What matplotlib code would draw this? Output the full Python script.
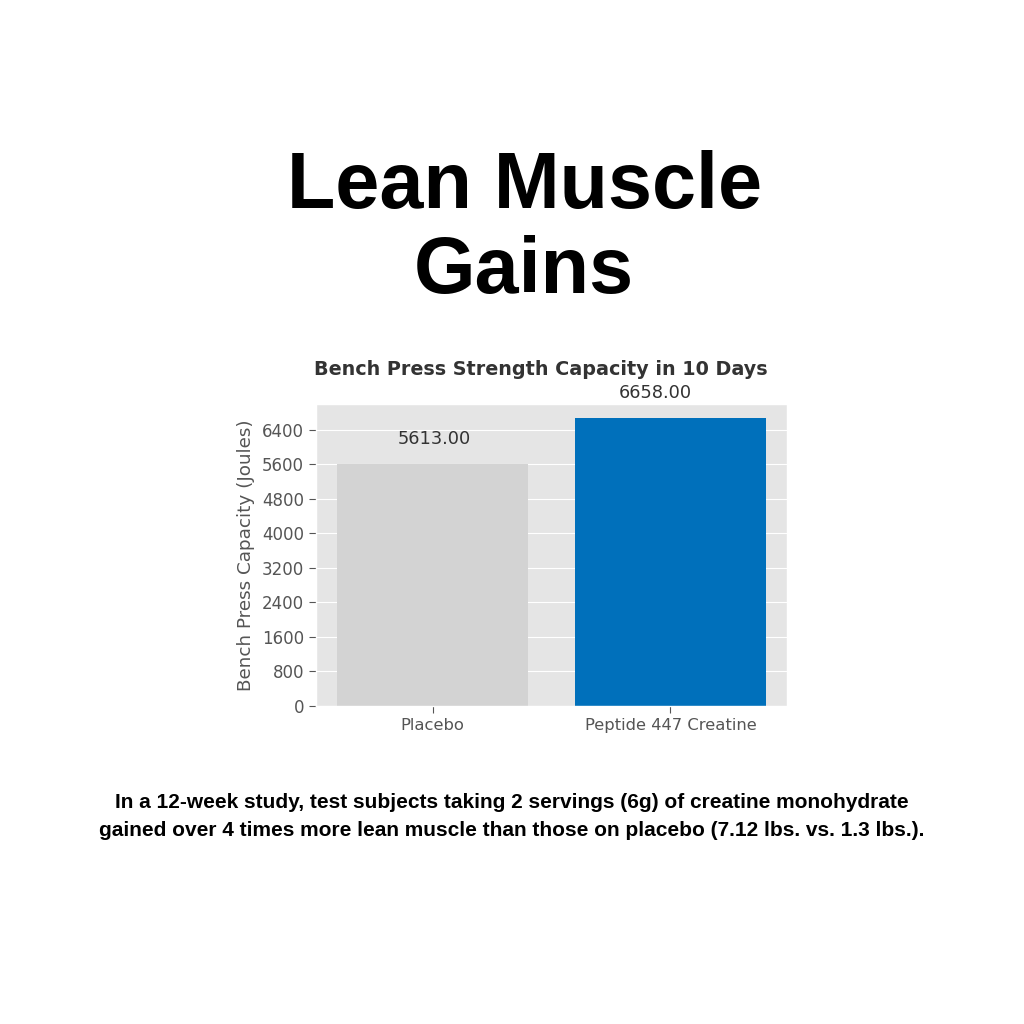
import numpy as np
import matplotlib
matplotlib.use('Agg')
import matplotlib.pyplot as plt

# Data
groups = ['Placebo', 'Peptide 447 Creatine']
capacity = [5613.00, 6658.00]
bar_colors = ['#d3d3d3', '#0070bb']
y_ticks = [0, 800, 1600, 2400, 3200, 4000, 4800, 5600, 6400]

headline = ['Lean Muscle', 'Gains']
chart_title = 'Bench Press Strength Capacity in 10 Days'
y_label = 'Bench Press Capacity (Joules)'
caption = ['In a 12-week study, test subjects taking 2 servings (6g) of creatine monohydrate',
           'gained over 4 times more lean muscle than those on placebo (7.12 lbs. vs. 1.3 lbs.).']

plt.style.use('ggplot')
plt.rcParams['font.family'] = ['DejaVu Sans']

fig = plt.figure(figsize=(10.24, 10.24), dpi=100)
fig.patch.set_facecolor('white')

# big headline
for i, line in enumerate(headline):
    fig.text(0.512, 1 - (208 + 85 * i) / 1024, line, ha='center', va='baseline',
             fontsize=57, fontweight='bold', color='black',
             family=['Liberation Sans', 'DejaVu Sans'])

ax = fig.add_axes([316 / 1024, 1 - 706 / 1024, 471 / 1024, 302 / 1024])
x = np.arange(len(groups))
bars = ax.bar(x, capacity, width=0.8, color=bar_colors)

# value labels (the second one sits a little left of its bar in the original)
label_shift = [1, -11]
for b, v, dx in zip(bars, capacity, label_shift):
    ax.annotate(f'{v:.2f}', (b.get_x() + b.get_width() / 2, v),
                xytext=(dx, 18), textcoords='offset points',
                ha='center', va='center', fontsize=12.8, color='#333333')

ax.set_xticks(x)
ax.set_xticklabels(groups, fontsize=11.8, color='#555555')
ax.set_yticks(y_ticks)
ax.tick_params(axis='y', labelsize=12, labelcolor='#555555')
ax.tick_params(axis='both', length=5)
ax.set_ylabel(y_label, fontsize=13.2, color='#555555', labelpad=5)
ax.set_title(chart_title, fontsize=13.8, fontweight='bold', color='#333333',
             pad=21, x=0.478)
ax.grid(axis='x', visible=False)

# caption below
for i, line in enumerate(caption):
    fig.text(0.5, 1 - (808 + 28 * i) / 1024, line, ha='center', va='baseline',
             fontsize=15, fontweight='bold', color='black',
             family=['Liberation Sans Narrow', 'Liberation Sans'])

fig.savefig('out.png', dpi=100, facecolor='white')
